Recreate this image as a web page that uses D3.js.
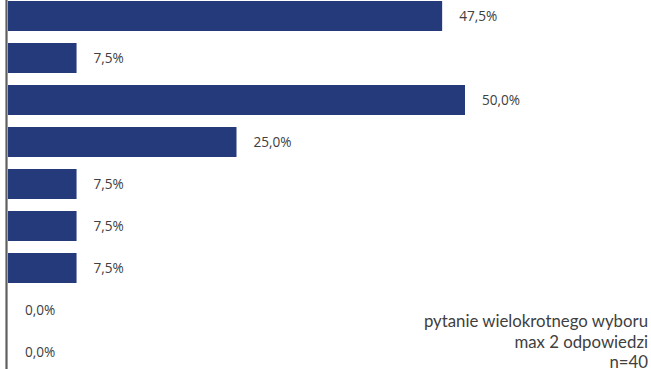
<!DOCTYPE html>
<html>
<head>
<meta charset="utf-8">
<script src="https://cdn.jsdelivr.net/npm/d3@7"></script>
<style>
  html, body { margin: 0; padding: 0; background: #fff; }
  svg { display: block; }
</style>
</head>
<body>
<svg id="chart" width="651" height="369"></svg>
<script>
// Answer rows (top to bottom) and their shares in percent
const categories = ["o1", "o2", "o3", "o4", "o5", "o6", "o7", "o8", "o9"];
const values = [47.5, 7.5, 50.0, 25.0, 7.5, 7.5, 7.5, 0.0, 0.0];
const noteLines = ["pytanie wielokrotnego wyboru", "max 2 odpowiedzi", "n=40"];

const svg = d3.select("#chart");
const W = 651, H = 369;

const x = d3.scaleLinear().domain([0, 50]).range([8, 465]);
const y = d3.scaleBand().domain(categories).range([-5, 373]).paddingInner(0.286).paddingOuter(0.143);

const fmt = v => d3.format(".1f")(v).replace(".", ",") + "%";

// bars
svg.append("g").selectAll("rect")
  .data(values)
  .join("rect")
  .attr("x", x(0))
  .attr("y", (d, i) => y(categories[i]))
  .attr("width", d => x(d) - x(0))
  .attr("height", y.bandwidth())
  .attr("fill", "#243a7a");

// value labels
svg.append("g").selectAll("text")
  .data(values)
  .join("text")
  .attr("x", d => x(d) + 17)
  .attr("y", (d, i) => y(categories[i]) + y.bandwidth() / 2 + 0.5)
  .attr("dy", "0.35em")
  .attr("font-family", "Open Sans, sans-serif")
  .attr("font-size", 13.6)
  .attr("fill", "#404040")
  .text(fmt);

// vertical category axis line
svg.append("line")
  .attr("x1", 6.5).attr("x2", 6.5)
  .attr("y1", 0).attr("y2", H)
  .attr("stroke", "#5f5f5f")
  .attr("stroke-width", 2.2);

// note in the lower right corner
svg.append("g").selectAll("text")
  .data(noteLines)
  .join("text")
  .attr("x", 648)
  .attr("y", (d, i) => 327 + i * 20.5)
  .attr("text-anchor", "end")
  .attr("font-family", "Lato, sans-serif")
  .attr("font-size", 16.8)
  .attr("fill", "#404040")
  .text(d => d);
</script>
</body>
</html>
